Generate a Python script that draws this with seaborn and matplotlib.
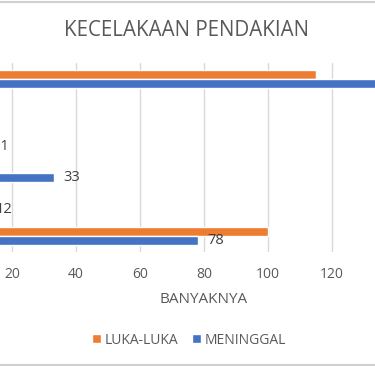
import numpy as np
import pandas as pd
import seaborn as sns
import matplotlib.pyplot as plt
from matplotlib.lines import Line2D

# data (category names are cut off in the reference, left side of the chart)
kategori = ["K1", "K2", "K3", "K4", "K5", "K6"]
luka_luka = [115, 3, 4, 5, 3, 100]
meninggal = [138, 2, 11, 33, 12, 78]
seri = ["LUKA-LUKA", "MENINGGAL"]
warna = ["#ED7D31", "#4472C4"]

df = pd.DataFrame({
    "kategori": kategori * 2,
    "jenis": [seri[0]] * len(kategori) + [seri[1]] * len(kategori),
    "nilai": luka_luka + meninggal,
})

sns.set_theme(style="white")
plt.rcParams["font.family"] = ["Open Sans", "DejaVu Sans"]
teks = "#595959"

fig = plt.figure(figsize=(3.75, 3.66), dpi=100)
# plot area is cropped on the left and right in the reference
ax = fig.add_axes([-52 / 375, 1 - 252 / 366, 512 / 375, 189 / 366])

sns.barplot(data=df, y="kategori", x="nilai", hue="jenis", order=kategori,
            hue_order=seri, palette=warna, orient="h", width=0.56, gap=0,
            saturation=1, ax=ax, legend=True)

ax.set_xlim(0, 160)
ax.set_xticks(np.arange(0, 161, 20))
ax.xaxis.grid(True, color="#D9D9D9", linewidth=1)
ax.set_axisbelow(True)
for s in ["top", "right", "bottom"]:
    ax.spines[s].set_visible(False)
ax.spines["left"].set_color("#D9D9D9")
ax.tick_params(axis="x", length=0, pad=11, labelsize=10, labelcolor=teks)
ax.tick_params(axis="y", length=0, labelleft=False)
ax.set_ylabel("")
ax.set_xlabel("BANYAKNYA", fontsize=11, color=teks, labelpad=7)

# only the MENINGGAL series carries data labels
ax.bar_label(ax.containers[1], padding=7, fontsize=10.5, color="#404040")

h, l = ax.get_legend_handles_labels()
ax.get_legend().remove()
fig.legend(h, l, loc="center", bbox_to_anchor=(0.505, 1 - 340 / 366), ncol=2,
           frameon=False, fontsize=10, labelcolor=teks, handlelength=0.6,
           handleheight=0.6, handletextpad=0.3, columnspacing=1.0)

fig.text(0.497, 1 - 31 / 366, "KECELAKAAN PENDAKIAN", ha="center", va="center",
         fontsize=14.8, color=teks)

# chart border lines visible at top and bottom of the crop
fig.add_artist(Line2D([0, 1], [1 - 1.5 / 366, 1 - 1.5 / 366], color="#D0D0D0", lw=1.5))
fig.add_artist(Line2D([0, 1], [1.5 / 366, 1.5 / 366], color="#D0D0D0", lw=1.5))

fig.savefig("out.png", dpi=100)
